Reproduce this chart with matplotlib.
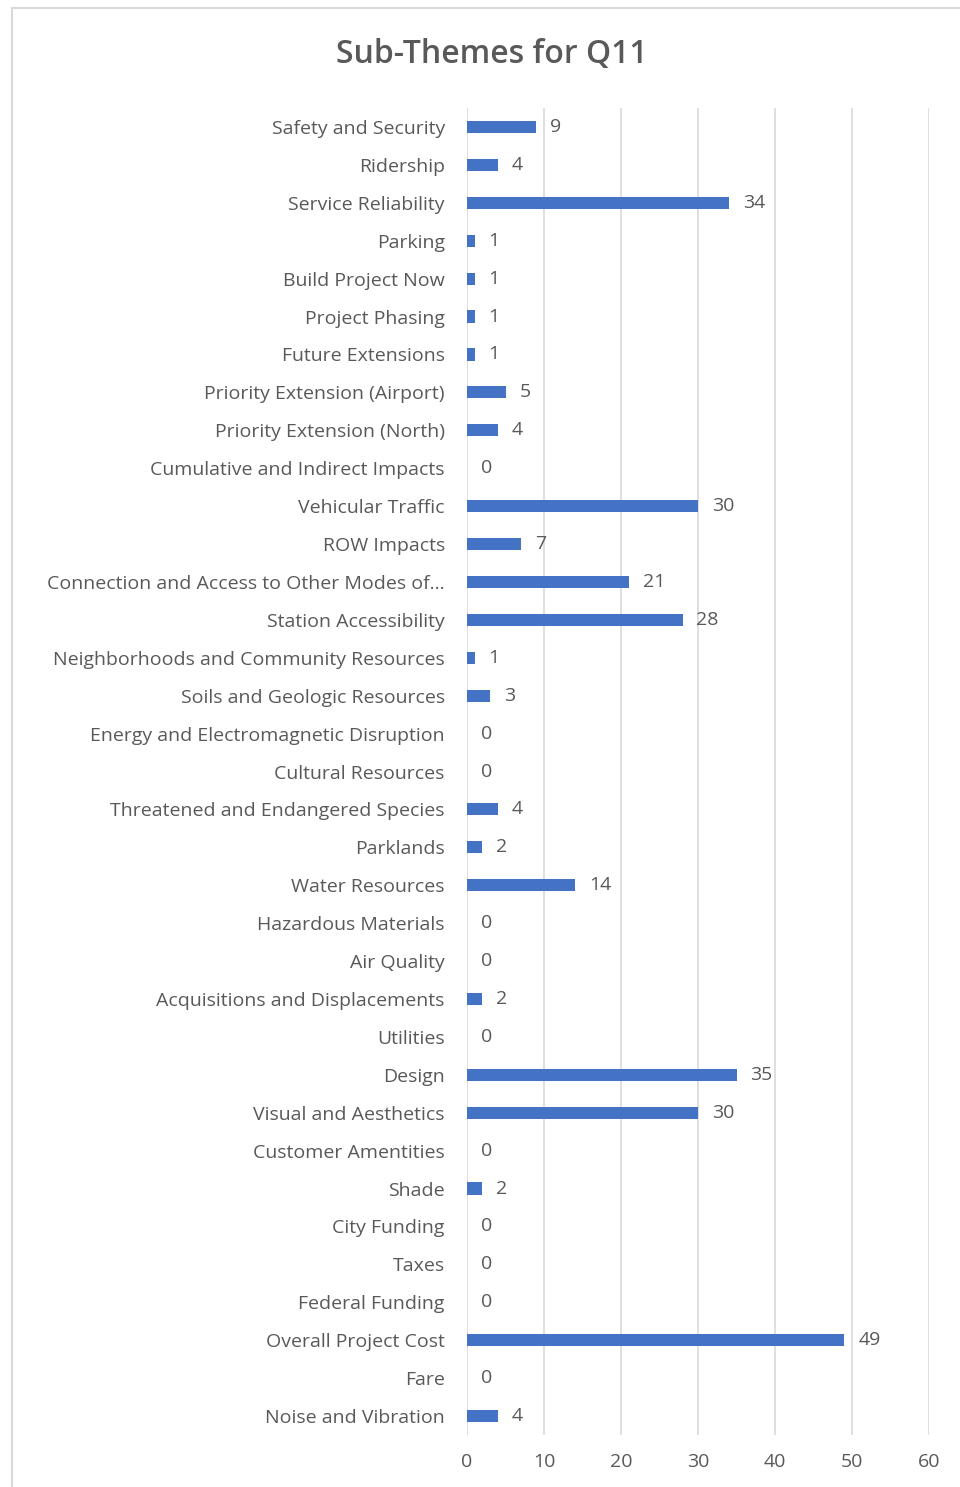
import matplotlib.pyplot as plt
from matplotlib.patches import Rectangle

categories = [
    'Safety and Security', 'Ridership', 'Service Reliability', 'Parking',
    'Build Project Now', 'Project Phasing', 'Future Extensions',
    'Priority Extension (Airport)', 'Priority Extension (North)',
    'Cumulative and Indirect Impacts', 'Vehicular Traffic', 'ROW Impacts',
    'Connection and Access to Other Modes of...', 'Station Accessibility',
    'Neighborhoods and Community Resources', 'Soils and Geologic Resources',
    'Energy and Electromagnetic Disruption', 'Cultural Resources',
    'Threatened and Endangered Species', 'Parklands', 'Water Resources',
    'Hazardous Materials', 'Air Quality', 'Acquisitions and Displacements',
    'Utilities', 'Design', 'Visual and Aesthetics', 'Customer Amentities',
    'Shade', 'City Funding', 'Taxes', 'Federal Funding', 'Overall Project Cost',
    'Fare', 'Noise and Vibration',
]
values = [9, 4, 34, 1, 1, 1, 1, 5, 4, 0, 30, 7, 21, 28, 1, 3, 0, 0, 4, 2, 14,
          0, 0, 2, 0, 35, 30, 0, 2, 0, 0, 0, 49, 0, 4]
x_ticks = [0, 10, 20, 30, 40, 50, 60]

txt = '#595959'
bar_color = '#4472C4'
plt.rcParams['font.family'] = ['Open Sans', 'DejaVu Sans']

fig = plt.figure(figsize=(9.6, 14.87), dpi=100)
# chart frame like the Excel chart area
fig.patches.append(Rectangle((12 / 960, -0.01), 1.0, 1 - 8 / 1487 + 0.01,
                             transform=fig.transFigure, fill=False,
                             edgecolor='#D9D9D9', linewidth=1.5))

n = len(categories)
ax = fig.add_axes([467 / 960, 1 - 1435 / 1487, (929 - 467) / 960, (1435 - 108) / 1487])
pos = list(range(n))
ax.barh(pos, values, height=0.32, color=bar_color, zorder=3)

for p, v in zip(pos, values):
    ax.annotate(str(v), (v, p), xytext=(10, 0), textcoords='offset points',
                ha='left', va='center', fontsize=14, color=txt)

ax.set_ylim(n - 0.5, -0.5)
ax.set_xlim(0, 60)
ax.set_xticks(x_ticks)
ax.set_yticks(pos)
ax.set_yticklabels(categories)
ax.tick_params(axis='both', length=0, labelsize=14, labelcolor=txt)
ax.tick_params(axis='y', pad=16)
ax.tick_params(axis='x', pad=13)
ax.grid(axis='x', color='#D9D9D9', linewidth=1.2, zorder=0)
for s in ax.spines.values():
    s.set_visible(False)

fig.text(492 / 960, 1 - 54 / 1487, 'Sub-Themes for Q11', ha='center', va='center',
         fontsize=23, fontweight='semibold', color=txt)

fig.savefig('out.png', dpi=100)
